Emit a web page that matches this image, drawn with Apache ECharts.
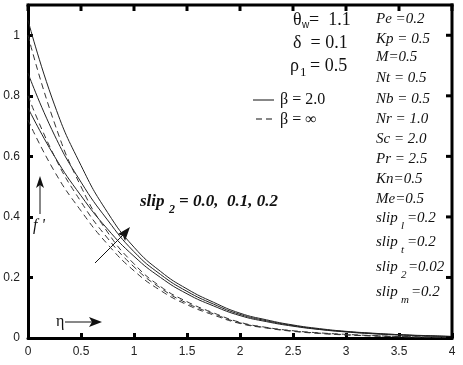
<!DOCTYPE html>
<html>
<head>
<meta charset="utf-8">
<script src="https://cdn.jsdelivr.net/npm/echarts@6/dist/echarts.min.js"></script>
<style>
html,body{margin:0;padding:0;background:#fff;}
#chart1{width:463px;height:365px;}
</style>
</head>
<body>
<div id="chart1"></div>
<script>
// eta values (x axis)
var eta = [0,0.25,0.5,0.75,1,1.25,1.5,1.75,2,2.25,2.5,2.75,3,3.25,3.5,3.75,4];
// beta = 2.0 (solid), slip2 = 0.0, 0.1, 0.2
var solid1 = [1.05,0.77,0.57,0.415,0.30,0.22,0.162,0.118,0.082,0.06,0.043,0.031,0.022,0.016,0.011,0.008,0.005];
var solid2 = [0.875,0.67,0.515,0.39,0.285,0.21,0.154,0.112,0.078,0.057,0.041,0.029,0.021,0.015,0.011,0.007,0.005];
var solid3 = [0.76,0.60,0.47,0.36,0.27,0.20,0.146,0.106,0.074,0.054,0.039,0.028,0.020,0.014,0.010,0.007,0.005];
// beta = inf (dashed)
var dash1 = [1.0,0.71,0.50,0.35,0.245,0.17,0.12,0.083,0.052,0.035,0.024,0.017,0.012,0.008,0.005,0.003,0.002];
var dash2 = [0.80,0.60,0.45,0.33,0.235,0.165,0.115,0.08,0.05,0.034,0.023,0.016,0.011,0.007,0.005,0.003,0.002];
var dash3 = [0.72,0.55,0.42,0.31,0.222,0.157,0.11,0.076,0.048,0.033,0.022,0.015,0.010,0.007,0.004,0.003,0.002];

var xTicks = [0,0.5,1,1.5,2,2.5,3,3.5,4];
var yTicks = [0,0.2,0.4,0.6,0.8,1];

function pairs(ys){
    var res = [];
    for (var i=0;i<eta.length;i++) res.push([eta[i], ys[i]]);
    return res;
}

var serif = '"Liberation Serif", "DejaVu Serif", serif';
var ink = '#111';

function txt(x, y, s, size, extra){
    return {type:'text', x:x, y:y,
        style:{text:s, fill:ink, font:(extra ? extra + ' ' : '') + size + 'px ' + serif, verticalAlign:'middle'}};
}

var Chart1 = echarts.init(document.getElementById('chart1'));

var series = [];
[solid1, solid2, solid3].forEach(function(s){
    series.push({type:'line', data:pairs(s), smooth:true, showSymbol:false,
        lineStyle:{color:'#222', width:1}});
});
[dash1, dash2, dash3].forEach(function(s){
    series.push({type:'line', data:pairs(s), smooth:true, showSymbol:false,
        lineStyle:{color:'#333', width:1, type:[6,4]}});
});

var graphics = [
    // left block
    txt(293, 20, 'θ', 18),
    {type:'text', x:302, y:25, style:{text:'w', fill:ink, font:'10px "Liberation Sans", sans-serif', verticalAlign:'middle'}},
    txt(309, 20, '=  1.1', 18),
    txt(293, 43, 'δ  = 0.1', 18),
    txt(290, 66, 'ρ', 18),
    txt(300, 73, '1', 13),
    txt(310, 66, '= 0.5', 18),
    {type:'line', shape:{x1:253, y1:100, x2:274, y2:100}, style:{stroke:ink, lineWidth:1}},
    txt(280, 100, 'β = 2.0', 16),
    {type:'line', shape:{x1:256, y1:119, x2:275, y2:119}, style:{stroke:ink, lineWidth:1, lineDash:[6,4]}},
    txt(280, 120, 'β = ∞', 16),
    // right column
    txt(376, 19, 'Pe =0.2', 15, 'italic'),
    txt(376, 39, 'Kp = 0.5', 15, 'italic'),
    txt(376, 57, 'M=0.5', 15, 'italic'),
    txt(376, 78, 'Nt = 0.5', 15, 'italic'),
    txt(376, 99, 'Nb = 0.5', 15, 'italic'),
    txt(376, 119, 'Nr = 1.0', 15, 'italic'),
    txt(376, 139, 'Sc = 2.0', 15, 'italic'),
    txt(376, 159, 'Pr = 2.5', 15, 'italic'),
    txt(376, 179, 'Kn=0.5', 15, 'italic'),
    txt(376, 199, 'Me=0.5', 15, 'italic'),
    txt(376, 218, 'slip', 15, 'italic'), txt(401, 226, 'l', 11, 'italic'), txt(407, 218, '=0.2', 15, 'italic'),
    txt(376, 242, 'slip', 15, 'italic'), txt(401, 250, 't', 11, 'italic'), txt(407, 242, '=0.2', 15, 'italic'),
    txt(376, 267, 'slip', 15, 'italic'), txt(401, 275, '2', 11, 'italic'), txt(408, 267, '=0.02', 15, 'italic'),
    txt(376, 292, 'slip', 15, 'italic'), txt(401, 300, 'm', 11, 'italic'), txt(411, 292, '=0.2', 15, 'italic'),
    // slip2 label
    txt(140, 202, 'slip', 17, 'italic bold'), txt(169, 210, '2', 12, 'italic bold'), txt(179, 202, '= 0.0,  0.1, 0.2', 17, 'italic bold'),
    // slanted arrow
    {type:'line', shape:{x1:95, y1:263, x2:126, y2:232}, style:{stroke:ink, lineWidth:1}},
    {type:'polygon', shape:{points:[[130,227],[118,234],[123,236],[125,241]]}, style:{fill:ink}},
    // f' arrow
    {type:'line', shape:{x1:40, y1:214, x2:40, y2:184}, style:{stroke:ink, lineWidth:1}},
    {type:'polygon', shape:{points:[[40,176],[36,188],[40,185],[44,188]]}, style:{fill:ink}},
    txt(33, 226, "f '", 16, 'italic'),
    // eta arrow
    txt(56, 322, 'η', 16),
    {type:'line', shape:{x1:65, y1:322, x2:94, y2:322}, style:{stroke:ink, lineWidth:1}},
    {type:'polygon', shape:{points:[[102,322],[89,317],[92,322],[89,327]]}, style:{fill:ink}}
];

var labelFont = '"Liberation Sans", Arial, sans-serif';

var option1 = {
    animation:false,
    grid:{left:28, right:11, top:5, bottom:27},
    xAxis:{type:'value', min:0, max:4, interval:0.5,
        axisLine:{show:true, lineStyle:{color:'#000', width:3}},
        axisTick:{show:true, inside:true, length:5, lineStyle:{color:'#000', width:3}},
        splitLine:{show:false},
        axisLabel:{color:'#222', fontSize:12, fontFamily:labelFont, margin:8,
            formatter:function(v){ return xTicks.indexOf(v) >= 0 ? String(v) : ''; }}},
    yAxis:{type:'value', min:0, max:1.1, interval:0.2,
        axisLine:{show:true, lineStyle:{color:'#000', width:3}},
        axisTick:{show:true, inside:true, length:5, lineStyle:{color:'#000', width:3}},
        splitLine:{show:false},
        axisLabel:{color:'#222', fontSize:12, fontFamily:labelFont, margin:8, showMaxLabel:false,
            formatter:function(v){ var r = Math.round(v*10)/10; return yTicks.indexOf(r) >= 0 ? String(r) : ''; }}},
    series:series
};
Chart1.setOption(option1);

// top and right edges of the box as filled bars, with inward ticks, placed through the chart's scales
var tl = Chart1.convertToPixel({gridIndex:0}, [0, 1.1]);
var br = Chart1.convertToPixel({gridIndex:0}, [4, 0]);
graphics.push({type:'rect', z:50, shape:{x:tl[0]-1.5, y:tl[1]-1.5, width:br[0]-tl[0]+3, height:3},
    style:{fill:'#000'}});
graphics.push({type:'rect', z:50, shape:{x:br[0]-1.5, y:tl[1]-1.5, width:3, height:br[1]-tl[1]+3},
    style:{fill:'#000'}});
xTicks.forEach(function(v){
    var p = Chart1.convertToPixel({gridIndex:0}, [v, 1.1]);
    graphics.push({type:'rect', z:50, shape:{x:p[0]-1.5, y:p[1], width:3, height:6}, style:{fill:'#000'}});
});
yTicks.forEach(function(v){
    var p = Chart1.convertToPixel({gridIndex:0}, [4, v]);
    graphics.push({type:'rect', z:50, shape:{x:p[0]-6, y:p[1]-1.5, width:6, height:3}, style:{fill:'#000'}});
});
Chart1.setOption({graphic:graphics});

window.onresize = function () {
    Chart1.resize();
}
</script>
</body>
</html>
